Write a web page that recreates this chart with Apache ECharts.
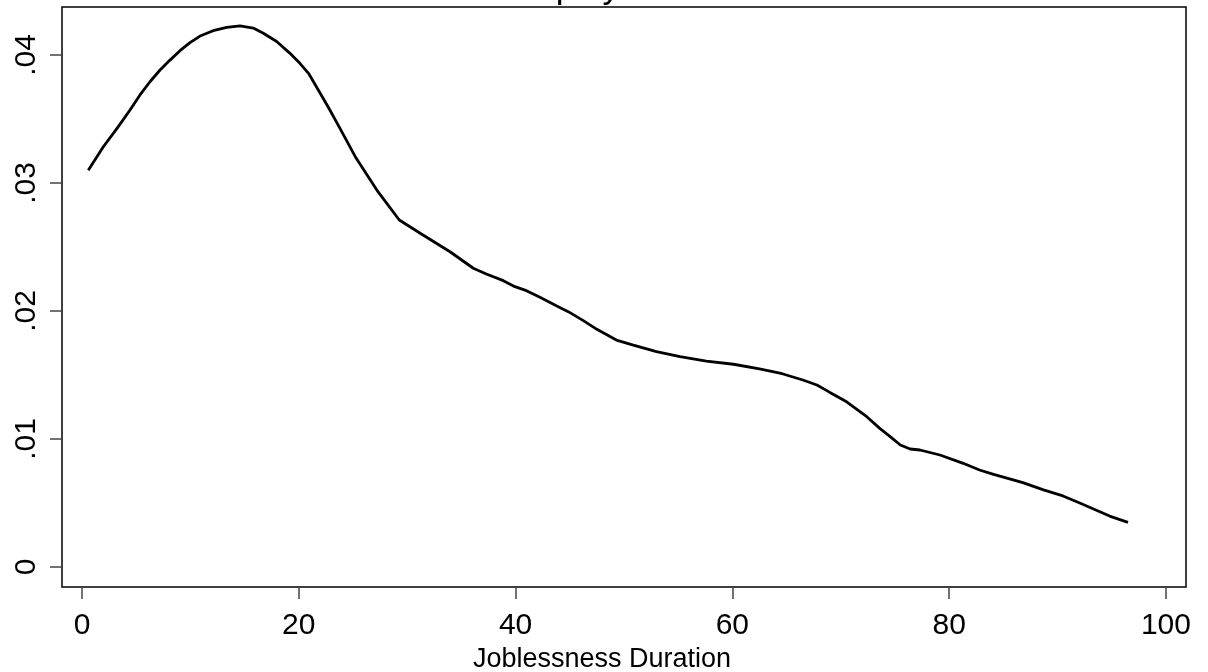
<!DOCTYPE html>
<html>
<head>
<meta charset="utf-8">
<script src="https://cdn.jsdelivr.net/npm/echarts@6/dist/echarts.min.js"></script>
<style>
html,body{margin:0;padding:0;background:#fff;}
#chart{width:1208px;height:672px;}
</style>
</head>
<body>
<div id="chart"></div>
<script>
// Joblessness duration (x) and estimated density (y)
const durations = [0.58, 1.97, 3.35, 4.43, 5.35, 6.27, 7.2, 8.12, 9.04, 9.96, 10.89, 12.1, 13.35, 14.58, 15.8, 16.73, 17.96, 19.19, 20.1, 20.9, 21.8, 22.7, 23.8, 25.3, 27.2, 29.27, 31.2, 33.95, 36.1, 37.3, 38.87, 39.94, 41.0, 42.25, 43.8, 44.86, 46.25, 47.5, 49.3, 50.86, 53.0, 55.17, 57.6, 60.1, 62.5, 64.6, 66.5, 67.8, 69.0, 70.54, 72.4, 73.6, 74.5, 75.5, 76.4, 77.3, 79.15, 81.3, 82.8, 84.1, 86.8, 88.7, 90.5, 92.1, 93.9, 94.8, 96.5];
const density = [0.0310, 0.03283, 0.0344, 0.0357, 0.03688, 0.03791, 0.03883, 0.0396, 0.04034, 0.04097, 0.04148, 0.0419, 0.04216, 0.04227, 0.0421, 0.0417, 0.04105, 0.04013, 0.03935, 0.03857, 0.03727, 0.03596, 0.03427, 0.03193, 0.02945, 0.02711, 0.02607, 0.02463, 0.02334, 0.02289, 0.02237, 0.0219, 0.02159, 0.02107, 0.02039, 0.01995, 0.01925, 0.01857, 0.01773, 0.01734, 0.01682, 0.01643, 0.01609, 0.01584, 0.01547, 0.0151, 0.01461, 0.01422, 0.01364, 0.01291, 0.01174, 0.01083, 0.01023, 0.00953, 0.00922, 0.00914, 0.00875, 0.0081, 0.00758, 0.00724, 0.00659, 0.00602, 0.00555, 0.00498, 0.00432, 0.00398, 0.00349];
const xTicks = [0, 20, 40, 60, 80, 100];
const yTicks = [0, 0.01, 0.02, 0.03, 0.04];
const xTitle = 'Joblessness Duration';
const chartTitle = 'Unemployment Rate';

const points = durations.map((d, i) => [d, density[i]]);
const font = 'Liberation Sans, Arial, Helvetica, sans-serif';

const chart = echarts.init(document.getElementById('chart'), null, {renderer: 'canvas'});
chart.setOption({
  animation: false,
  backgroundColor: '#ffffff',
  title: {
    text: chartTitle,
    left: 617,
    textAlign: 'center',
    top: -34,
    textStyle: {fontFamily: font, fontSize: 35, fontWeight: 'normal', color: '#000'}
  },
  grid: {
    left: 62, right: 22, top: 7, bottom: 85,
    containLabel: false,
    outerBoundsMode: 'none',
    show: true, borderColor: '#000', borderWidth: 1.5, backgroundColor: '#fff'
  },
  xAxis: {
    type: 'value',
    min: -1.845, max: 101.85,
    name: xTitle,
    nameLocation: 'middle',
    nameGap: 40,
    nameTextStyle: {fontFamily: font, fontSize: 27, color: '#000', padding: [0, 44, 0, 0]},
    axisLine: {show: false, onZero: false},
    axisTick: {show: true, inside: false, length: 12, customValues: xTicks, lineStyle: {color: '#444', width: 1.5}},
    axisLabel: {show: true, customValues: xTicks, margin: 24, fontFamily: font, fontSize: 30, color: '#000'},
    splitLine: {show: false}
  },
  yAxis: {
    type: 'value',
    min: -0.0015625, max: 0.04375,
    axisLine: {show: false, onZero: false},
    axisTick: {show: true, inside: false, length: 12, customValues: yTicks, lineStyle: {color: '#444', width: 1.5}},
    axisLabel: {
      show: true, customValues: yTicks, rotate: 90, margin: 20,
      fontFamily: font, fontSize: 30, color: '#000',
      formatter: v => v === 0 ? '0' : v.toFixed(2).replace(/^0/, '')
    },
    splitLine: {show: false}
  },
  series: [{
    type: 'line',
    data: points,
    showSymbol: false,
    smooth: false,
    lineStyle: {color: '#000', width: 2.8},
    clip: false
  }]
});
</script>
</body>
</html>
